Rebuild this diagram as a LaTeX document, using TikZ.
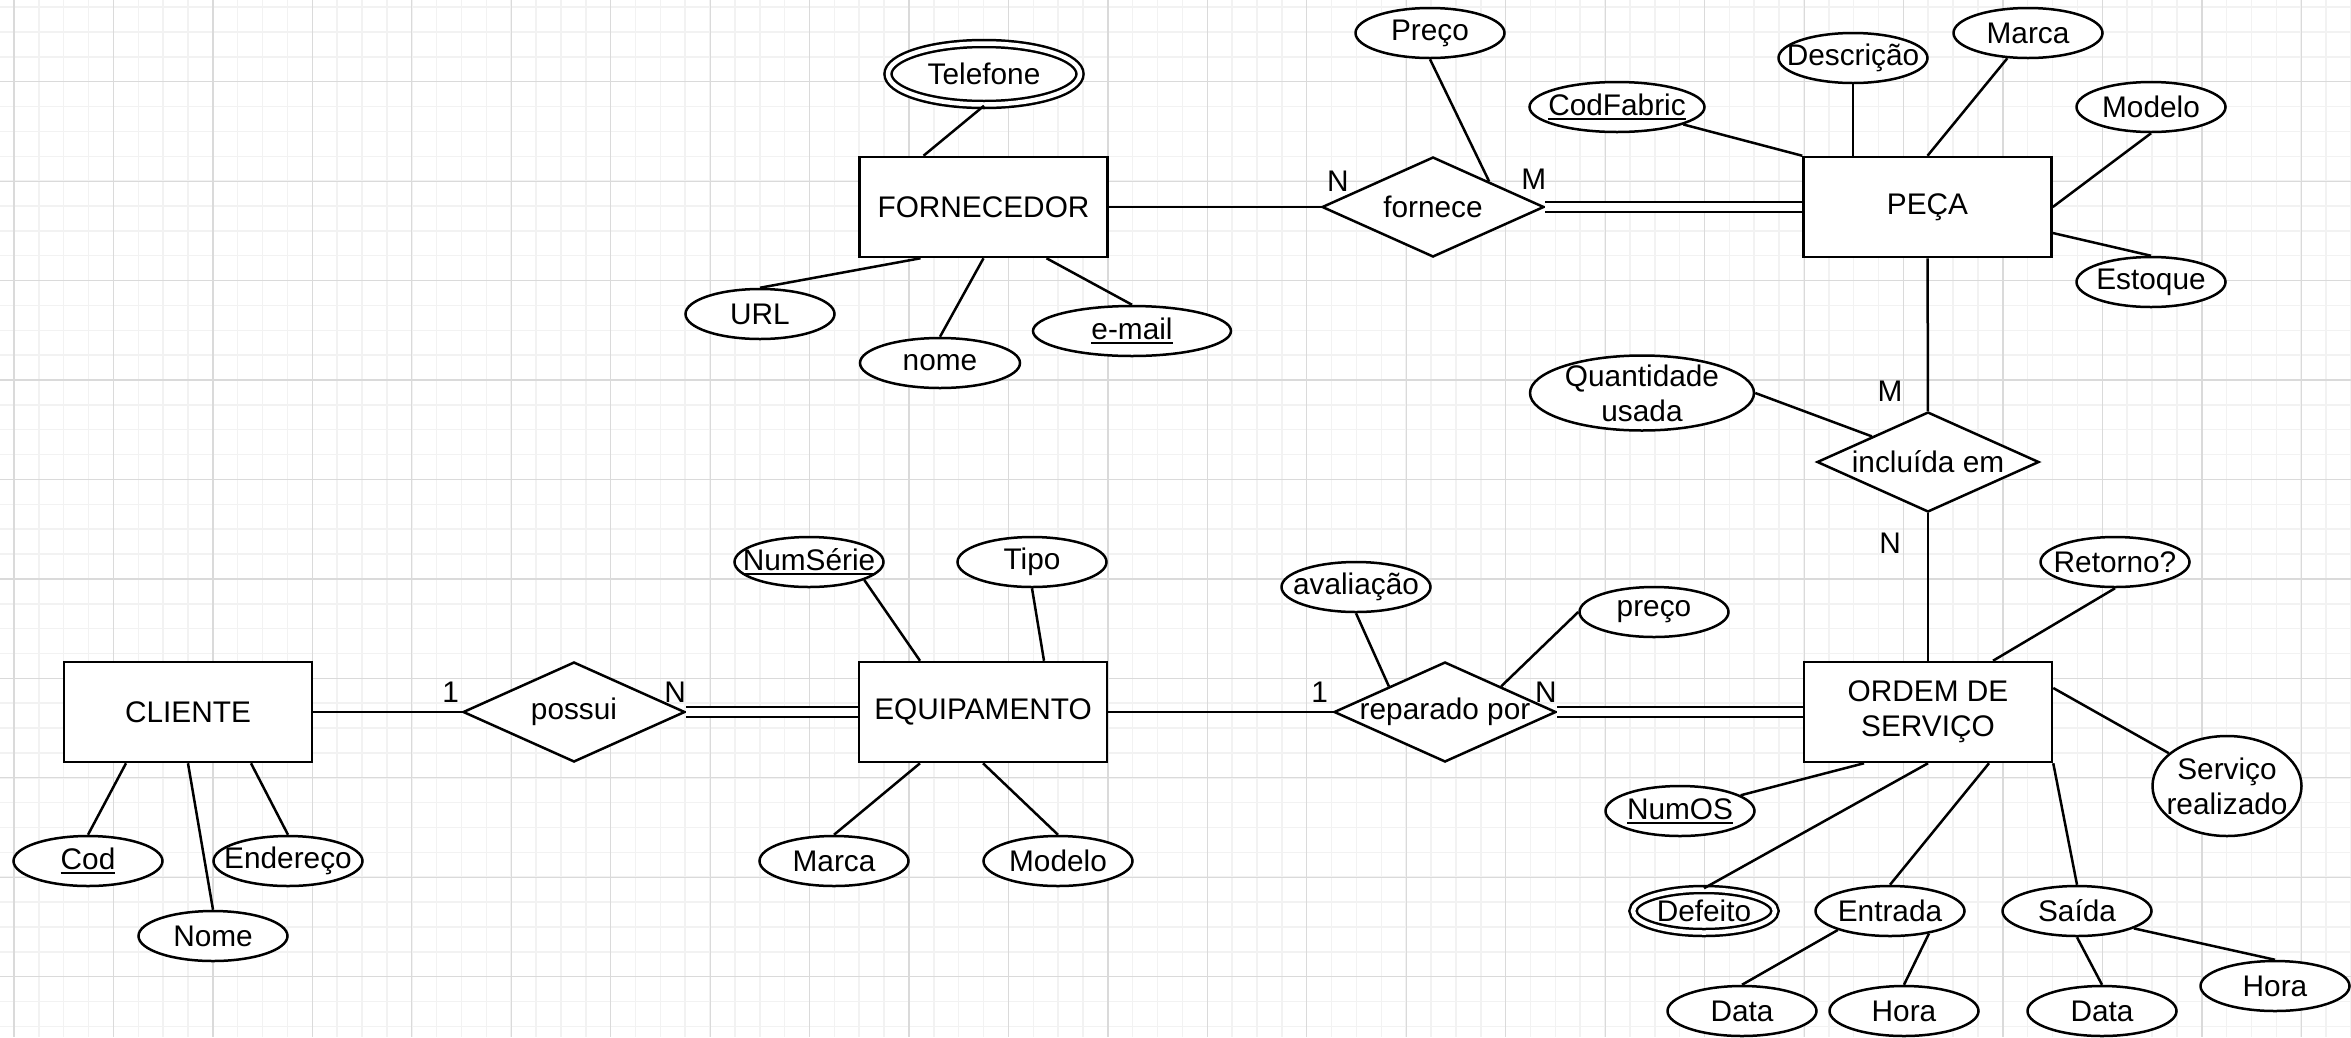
\documentclass[tikz,border=0pt]{standalone}
\usepackage{fontspec}
\setmainfont{Liberation Sans}
\usetikzlibrary{shapes.geometric}

\newcommand\erfont{\fontsize{29.8}{35}\selectfont}
\newcommand\chave[1]{\setbox0\hbox{#1}\rlap{\rule[-4.5pt]{\wd0}{2pt}}\box0}
\definecolor{grademaior}{HTML}{DADADA}
\definecolor{grademenor}{HTML}{F2F2F2}

\tikzset{
  txt/.style={font=\erfont, inner sep=0pt, align=center},
  entidade/.style={draw, fill=white, minimum width=248pt, minimum height=100pt, inner sep=0pt, align=center, font=\erfont},
  relacao/.style={draw, diamond, fill=white, minimum width=222pt, minimum height=100pt, inner sep=0pt, label={[txt]center:#1}},
  atributo/.style={draw, ellipse, fill=white, minimum width=149pt, minimum height=50pt, inner sep=0pt, label={[txt]center:#1}},
  multivalorado/.style={atributo=#1, double, double distance=4.5pt},
  participacao/.style={double, double distance=7.5pt},
  card/.style={font=\erfont, inner sep=0pt},
}

\begin{document}
\begin{tikzpicture}[x=1pt, y=-1pt, line width=2.5pt]
  \fill[white] (0,0) rectangle (2351,1037);
  \useasboundingbox (0,0) rectangle (2351,1037);
  % grade de fundo
  \foreach \i in {0,...,94}
    \draw[grademenor, line width=1.5pt] ({14+24.86*\i},0) -- ++(0,1037);
  \foreach \j in {0,...,41}
    \draw[grademenor, line width=1.5pt] (0,{7.12+24.86*\j}) -- ++(2351,0);
  \foreach \i in {0,...,23}
    \draw[grademaior, line width=1.2pt] ({14+99.45*\i},0) -- ++(0,1037);
  \foreach \j in {0,...,9}
    \draw[grademaior, line width=1.2pt] (0,{81.7+99.45*\j}) -- ++(2351,0);

  % entidades
  \node[entidade] (forn) at (983.5,207) {FORNECEDOR};
  \node[entidade] (peca) at (1927.5,207) {PEÇA};
  \node[entidade] (cli) at (188,712) {CLIENTE};
  \node[entidade] (equip) at (983,712) {EQUIPAMENTO};
  \node[entidade] (os) at (1928,712) {ORDEM DE\\SERVIÇO};

  % relacionamentos
  \node[relacao=fornece] (forne) at (1433,207) {};
  \node[relacao={incluída em}] (incl) at (1928,462) {};
  \node[relacao=possui] (poss) at (574,712) {};
  \node[relacao={reparado por}] (rep) at (1445,712) {};

  % atributos
  \node[multivalorado=Telefone, minimum width=192pt, minimum height=61pt] (tel) at (984,74) {};
  \node[atributo=URL] (url) at (760,314) {};
  \node[atributo=nome, minimum width=160pt] (nomef) at (940,363) {};
  \node[atributo={\chave{e-mail}}, minimum width=198pt] (email) at (1132,331) {};
  \node[atributo=Preço] (precof) at (1430,33) {};
  \node[atributo={\chave{CodFabric}}, minimum width=175pt] (codfab) at (1617,107) {};
  \node[atributo=Descrição] (descr) at (1853,58) {};
  \node[atributo=Marca] (marcap) at (2028,33) {};
  \node[atributo=Modelo] (modelop) at (2151,107) {};
  \node[atributo=Estoque] (estoque) at (2151,282) {};
  \node[atributo={Quantidade\\usada}, minimum width=224pt, minimum height=75pt] (qtd) at (1642,393) {};
  \node[atributo={\chave{NumSérie}}] (numserie) at (809,562) {};
  \node[atributo=Tipo] (tipo) at (1032,562) {};
  \node[atributo=Marca] (marcae) at (834,861) {};
  \node[atributo=Modelo] (modeloe) at (1058,861) {};
  \node[atributo={\chave{Cod}}] (cod) at (88,861) {};
  \node[atributo=Endereço] (ender) at (288,861) {};
  \node[atributo=Nome] (nomec) at (213,936) {};
  \node[atributo=avaliação] (aval) at (1356,587) {};
  \node[atributo=preço] (precor) at (1654,612) {};
  \node[atributo=Retorno?] (retorno) at (2115,562) {};
  \node[atributo={Serviço\\realizado}, minimum height=100pt] (servico) at (2227,786) {};
  \node[atributo={\chave{NumOS}}] (numos) at (1680,811) {};
  \node[multivalorado=Defeito, minimum width=142pt, minimum height=43pt] (defeito) at (1704,911) {};
  \node[atributo=Entrada] (entrada) at (1890,911) {};
  \node[atributo=Saída] (saida) at (2077,911) {};
  \node[atributo=Data] (datae) at (1742,1011) {};
  \node[atributo=Hora] (horae) at (1904,1011) {};
  \node[atributo=Data] (datas) at (2102,1011) {};
  \node[atributo=Hora] (horas) at (2275,986) {};

  % ligacoes
  \draw (tel.south) -- ([xshift=-60pt]forn.north);
  \draw (url.north) -- ([xshift=-63pt]forn.south);
  \draw (nomef.north) -- (forn.south);
  \draw (email.north) -- ([xshift=63pt]forn.south);
  \draw (forn) -- (forne);
  \draw (precof.south) -- (forne.north east);
  \draw[participacao] (forne) -- (peca);
  \draw (codfab) -- (peca.north west);
  \draw (descr) -- (descr |- peca.north);
  \draw (marcap) -- (peca.north);
  \draw (modelop.south) -- (peca.east);
  \draw (estoque.north) -- ([yshift=-26pt]peca.east);
  \draw (peca) -- (incl);
  \draw (qtd.east) -- (incl.north west);
  \draw (incl) -- (os);
  \draw (cod.north) -- ([xshift=-62pt]cli.south);
  \draw (nomec.north) -- (cli.south);
  \draw (ender.north) -- ([xshift=63pt]cli.south);
  \draw (cli) -- (poss);
  \draw[participacao] (poss) -- (equip);
  \draw (numserie.-18) -- ([xshift=-63pt]equip.north);
  \draw (tipo.south) -- ([xshift=61pt]equip.north);
  \draw (marcae.north) -- ([xshift=-63pt]equip.south);
  \draw (modeloe.north) -- (equip.south);
  \draw (equip) -- (rep);
  \draw (aval.south) -- (rep.north west);
  \draw (precor.west) -- (rep.north east);
  \draw[participacao] (rep) -- (os);
  \draw (retorno.south) -- ([xshift=65pt]os.north);
  \draw ([yshift=24pt]os.east) -- (servico);
  \draw (numos) -- ([xshift=-64pt]os.south);
  \draw (defeito.north) -- (os.south);
  \draw (entrada.north) -- ([xshift=61pt]os.south);
  \draw (saida.north) -- (os.south east);
  \draw (datae.north) -- (entrada.-160);
  \draw (horae.north) -- (entrada.-30);
  \draw (datas.north) -- (saida.south);
  \draw (horas.north) -- (saida.-17);

  % cardinalidades
  \node[card] (cfornn) at ([xshift=17pt, yshift=26pt]forne.west) {N};
  \node[card] (cfornm) at ([xshift=-11.5pt, yshift=28pt]forne.east) {M};
  \node[card] (cinclm) at ([xshift=-38pt, yshift=20pt]incl.north) {M};
  \node[card] (cincln) at ([xshift=-38pt, yshift=-30pt]incl.south) {N};
  \node[card] (cposs1) at ([xshift=-11pt, yshift=20pt]poss.west) {1};
  \node[card] (cpossn) at ([xshift=-11pt, yshift=20pt]poss.east) {N};
  \node[card] (crep1) at ([xshift=-13pt, yshift=20pt]rep.west) {1};
  \node[card] (crepn) at ([xshift=-11.5pt, yshift=20pt]rep.east) {N};
\end{tikzpicture}
\end{document}
